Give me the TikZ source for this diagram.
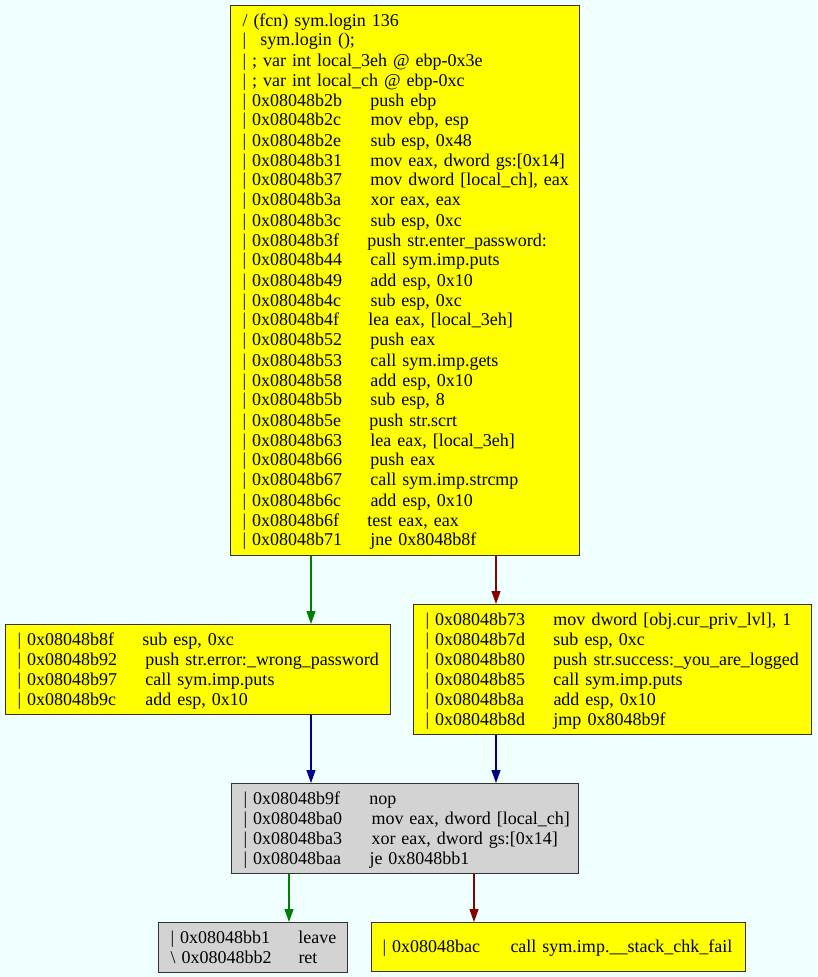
\documentclass[tikz,border=0pt]{standalone}
\usepackage{fontspec}
\setmainfont{Liberation Serif}
\usepackage{xcolor}
\usepackage{tikz}
\usetikzlibrary{arrows.meta}
\definecolor{bgazure}{HTML}{F0FFFF}
\definecolor{boxyellow}{HTML}{FFFF00}
\definecolor{boxgray}{HTML}{D3D3D3}
\definecolor{edgegreen}{HTML}{008000}
\definecolor{edgered}{HTML}{8B0000}
\definecolor{edgeblue}{HTML}{00008B}
\newcommand{\lstrut}{\rule[-4.5pt]{0pt}{20pt}}
\newcommand{\rawline}[1]{\mbox{\lstrut#1}}
\newcommand{\insn}[2]{\mbox{\lstrut\makebox[128pt][l]{\textbar\ #1}#2}}

\begin{document}
\begin{tikzpicture}[x=1pt,y=-1pt,
  every node/.style={font=\fontsize{18}{20}\selectfont},
  blk/.style={draw=black!80,line width=1pt,fill=boxyellow,anchor=north west,align=left,inner xsep=12pt,inner ysep=0pt},
  grayblk/.style={blk,fill=boxgray},
  gedge/.style={-{Triangle[length=13pt,width=9pt]},line width=1.2pt,edgegreen},
  redge/.style={-{Triangle[length=13pt,width=9pt]},line width=1.2pt,edgered},
  bedge/.style={-{Triangle[length=13pt,width=9pt]},line width=1.2pt,edgeblue}]
  \useasboundingbox (0,0) rectangle (817,977);
  \fill[bgazure] (0,0) rectangle (817,977);
  % blocks
  \node[blk,text width=325pt,minimum height=550pt] (login) at (230,5) {\rawline{/ (fcn) sym.login 136}\\
    \rawline{\makebox[18pt][l]{\textbar}sym.login ();}\\
    \rawline{\textbar\ ; var int local\_3eh @ ebp-0x3e}\\
    \rawline{\textbar\ ; var int local\_ch @ ebp-0xc}\\
    \insn{0x08048b2b}{push ebp}\\
    \insn{0x08048b2c}{mov ebp, esp}\\
    \insn{0x08048b2e}{sub esp, 0x48}\\
    \insn{0x08048b31}{mov eax, dword gs:[0x14]}\\
    \insn{0x08048b37}{mov dword [local\_ch], eax}\\
    \insn{0x08048b3a}{xor eax, eax}\\
    \insn{0x08048b3c}{sub esp, 0xc}\\
    \insn{0x08048b3f}{\hspace{-3pt}push str.enter\_password:}\\
    \insn{0x08048b44}{call sym.imp.puts}\\
    \insn{0x08048b49}{add esp, 0x10}\\
    \insn{0x08048b4c}{sub esp, 0xc}\\
    \insn{0x08048b4f}{\hspace{-2pt}lea eax, [local\_3eh]}\\
    \insn{0x08048b52}{push eax}\\
    \insn{0x08048b53}{call sym.imp.gets}\\
    \insn{0x08048b58}{add esp, 0x10}\\
    \insn{0x08048b5b}{sub esp, 8}\\
    \insn{0x08048b5e}{\hspace{-1pt}push str.scrt}\\
    \insn{0x08048b63}{lea eax, [local\_3eh]}\\
    \insn{0x08048b66}{push eax}\\
    \insn{0x08048b67}{call sym.imp.strcmp}\\
    \insn{0x08048b6c}{add esp, 0x10}\\
    \insn{0x08048b6f}{\hspace{-3pt}test eax, eax}\\
    \insn{0x08048b71}{jne 0x8048b8f}};
  \node[blk,text width=361pt,minimum height=90pt] (wrong) at (5,624) {\insn{0x08048b8f}{\hspace{-3pt}sub esp, 0xc}\\
    \insn{0x08048b92}{push str.error:\_wrong\_password}\\
    \insn{0x08048b97}{call sym.imp.puts}\\
    \insn{0x08048b9c}{add esp, 0x10}};
  \node[blk,text width=374pt,minimum height=130pt] (success) at (413,604) {\insn{0x08048b73}{mov dword [obj.cur\_priv\_lvl], 1}\\
    \insn{0x08048b7d}{sub esp, 0xc}\\
    \insn{0x08048b80}{push str.success:\_you\_are\_logged}\\
    \insn{0x08048b85}{call sym.imp.puts}\\
    \insn{0x08048b8a}{add esp, 0x10}\\
    \insn{0x08048b8d}{jmp 0x8048b9f}};
  \node[grayblk,text width=323pt,minimum height=90pt] (check) at (231,783) {\insn{0x08048b9f}{\hspace{-2pt}nop}\\
    \insn{0x08048ba0}{mov eax, dword [local\_ch]}\\
    \insn{0x08048ba3}{xor eax, dword gs:[0x14]}\\
    \insn{0x08048baa}{\hspace{-2pt}je 0x8048bb1}};
  \node[grayblk,text width=165pt,minimum height=50pt] (leave) at (158,922) {\insn{0x08048bb1}{leave}\\
    \rawline{\makebox[128pt][l]{\textbackslash\ 0x08048bb2}ret}};
  \node[blk,text width=352pt,minimum height=49pt,inner xsep=11pt] (fail) at (371,922) {\insn{0x08048bac}{call sym.imp.\_\_stack\_chk\_fail}};
  % edges
  \draw[gedge] ([xshift=81pt]login.south west) -- ([xshift=306pt]wrong.north west);
  \draw[redge] ([xshift=266pt]login.south west) -- ([xshift=83pt]success.north west);
  \draw[bedge] ([xshift=306pt]wrong.south west) -- ([xshift=80pt]check.north west);
  \draw[bedge] ([xshift=83pt]success.south west) -- ([xshift=265pt]check.north west);
  \draw[gedge] ([xshift=58pt]check.south west) -- ([xshift=131pt]leave.north west);
  \draw[redge] ([xshift=243pt]check.south west) -- ([xshift=103pt]fail.north west);
\end{tikzpicture}
\end{document}
